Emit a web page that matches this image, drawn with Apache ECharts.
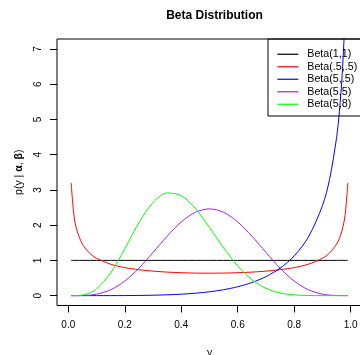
<!DOCTYPE html>
<html>
<head>
<meta charset="utf-8">
<script src="https://cdn.jsdelivr.net/npm/echarts@6/dist/echarts.min.js"></script>
<style>
  html, body { margin: 0; padding: 0; background: #fff; }
  #chart { width: 360px; height: 355px; }
</style>
</head>
<body>
<div id="chart"></div>
<script>
// values (density of each Beta curve at xs)
const xs = [0.01, 0.02, 0.03, 0.05, 0.075, 0.1, 0.15, 0.2, 0.25, 0.3, 0.35, 0.4, 0.45, 0.5,
  0.55, 0.6, 0.65, 0.7, 0.75, 0.8, 0.85, 0.9, 0.925, 0.95, 0.96, 0.97, 0.98, 0.99]

const beta11 = [1, 1, 1, 1, 1, 1, 1, 1, 1, 1, 1, 1, 1, 1,
  1, 1, 1, 1, 1, 1, 1, 1, 1, 1, 1, 1, 1, 1]
const beta0505 = [3.199, 2.274, 1.866, 1.4605, 1.2085, 1.061, 0.8914, 0.7958, 0.7351, 0.6946, 0.6674, 0.6497, 0.6398, 0.6366,
  0.6398, 0.6497, 0.6674, 0.6946, 0.7351, 0.7958, 0.8914, 1.061, 1.2085, 1.4605, 1.6244, 1.866, 2.274, 3.199]
const beta505 = [0, 0, 0, 0, 0, 0.0001, 0.0007, 0.0022, 0.0056, 0.0119, 0.0229, 0.0407, 0.068, 0.1088,
  0.1679, 0.2522, 0.3713, 0.5394, 0.7787, 1.127, 1.6585, 2.553, 3.2894, 4.4821, 5.2256, 6.2894, 8.0254, 11.82]
const beta55 = [0, 0.0001, 0.0005, 0.0032, 0.0146, 0.0413, 0.1665, 0.4129, 0.7787, 1.2252, 1.6876, 2.0902, 2.3639, 2.4609,
  2.3639, 2.0902, 1.6876, 1.2252, 0.7787, 0.4129, 0.1665, 0.0413, 0.0146, 0.0032, 0.0014, 0.0005, 0.0001, 0]
const beta58 = [0, 0.0006, 0.0026, 0.0173, 0.0726, 0.1894, 0.6427, 1.3288, 2.0648, 2.6416, 2.9131, 2.8379, 2.4722, 1.9336,
  1.354, 0.8409, 0.4548, 0.2079, 0.0765, 0.0208, 0.0035, 0.0003, 0, 0, 0, 0, 0, 0]

const xTicks = [0, 0.2, 0.4, 0.6, 0.8, 1.0]
const yTicks = [0, 1, 2, 3, 4, 5, 6, 7]

const curves = [
  { name: 'Beta(1,1)', color: '#000000', ys: beta11 },
  { name: 'Beta(.5,.5)', color: '#FF0000', ys: beta0505 },
  { name: 'Beta(5,.5)', color: '#0000FF', ys: beta505 },
  { name: 'Beta(5,5)', color: '#A020F0', ys: beta55 },
  { name: 'Beta(5,8)', color: '#00FF00', ys: beta58 }
]

const font = "'Liberation Sans', Arial, Helvetica, sans-serif"

const chart = echarts.init(document.getElementById('chart'))

const option = {
  animation: false,
  title: {
    text: 'Beta Distribution',
    left: 209.5,
    top: 5,
    textAlign: 'center',
    textStyle: { fontFamily: font, fontSize: 12, fontWeight: 'bold', color: '#000' }
  },
  grid: {
    left: 57,
    top: 39,
    width: 305,
    height: 266.5,
    outerBoundsMode: 'none',
    show: true,
    borderColor: '#000',
    borderWidth: 1,
    backgroundColor: 'transparent'
  },
  legend: {
    orient: 'vertical',
    left: 272.3,
    top: 43,
    icon: 'rect',
    itemWidth: 21,
    itemHeight: 1.2,
    itemGap: 0,
    data: curves.map(c => c.name),
    textStyle: { fontFamily: font, fontSize: 10.7, color: '#000', lineHeight: 12.5, padding: [0, 0, 0, 4] }
  },
  xAxis: {
    type: 'value',
    min: -0.04,
    max: 1.04,
    name: 'y',
    nameLocation: 'middle',
    nameGap: 42,
    nameTextStyle: { fontFamily: font, fontSize: 10.5, color: '#000' },
    axisLine: { show: false, onZero: false },
    splitLine: { show: false },
    axisTick: { show: true, length: 7, customValues: xTicks, lineStyle: { color: '#000' } },
    axisLabel: {
      customValues: xTicks,
      margin: 15,
      fontFamily: font,
      fontSize: 10,
      color: '#000',
      formatter: v => v.toFixed(1)
    }
  },
  yAxis: {
    type: 'value',
    min: -0.28,
    max: 7.28,
    name: '{a|p(y | }{b|α}{a|, }{b|β}{a|)}',
    nameLocation: 'middle',
    nameRotate: 90,
    nameGap: 26,
    nameTextStyle: {
      rich: {
        a: { fontFamily: font, fontSize: 10.5, color: '#000' },
        b: { fontFamily: font, fontSize: 10.5, color: '#000', fontWeight: 'bold' }
      }
    },
    axisLine: { show: false, onZero: false },
    splitLine: { show: false },
    axisTick: { show: true, length: 7, customValues: yTicks, lineStyle: { color: '#000' } },
    axisLabel: {
      customValues: yTicks,
      rotate: 90,
      margin: 14,
      fontFamily: font,
      fontSize: 10,
      color: '#000'
    }
  },
  graphic: [
    {
      type: 'rect',
      shape: { x: 268, y: 39, width: 110, height: 77 },
      style: { fill: 'transparent', stroke: '#000', lineWidth: 1 },
      z: 100
    }
  ],
  series: curves.map(c => ({
    name: c.name,
    type: 'line',
    data: xs.map((x, i) => [x, c.ys[i]]),
    symbol: 'none',
    smooth: 0.3,
    clip: true,
    lineStyle: { color: c.color, width: 1 },
    itemStyle: { color: c.color }
  }))
}

chart.setOption(option)
</script>
</body>
</html>
